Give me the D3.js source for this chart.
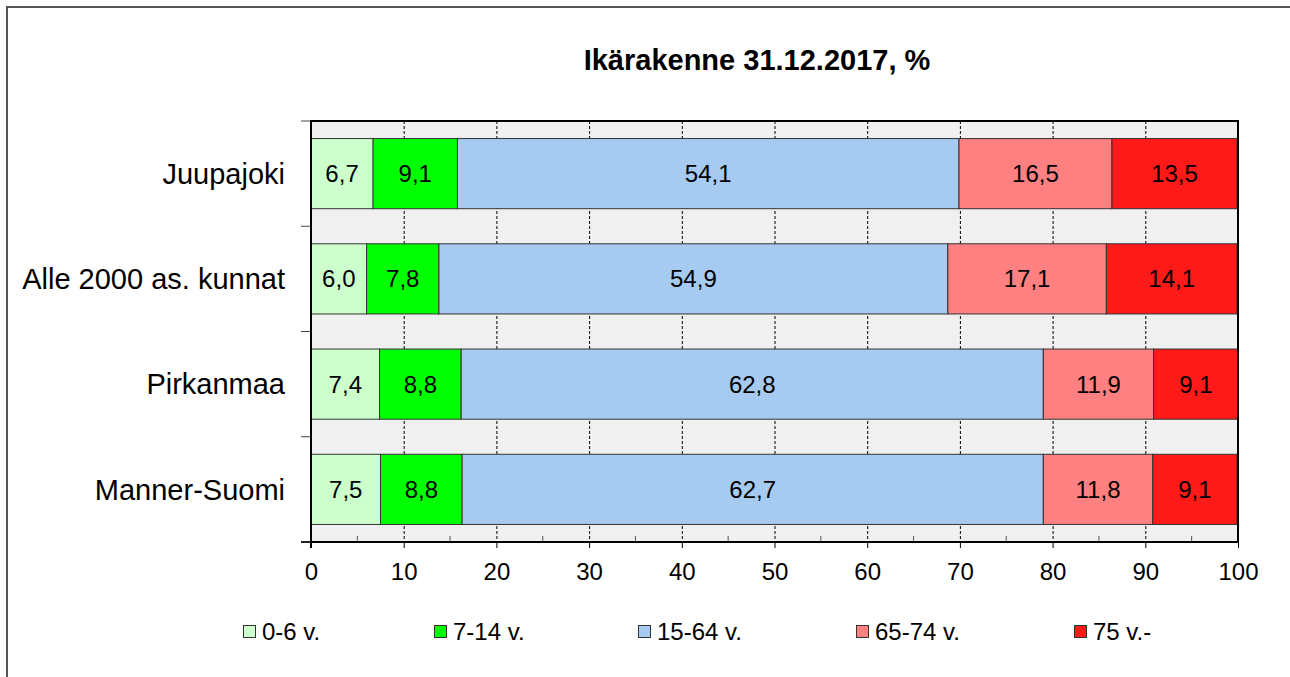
<!DOCTYPE html>
<html>
<head>
<meta charset="utf-8">
<script src="https://cdn.jsdelivr.net/npm/d3@7"></script>
<style>
  html, body { margin: 0; padding: 0; background: #fff; overflow: hidden; }
  svg { display: block; font-family: "Liberation Sans", Arial, sans-serif; }
</style>
</head>
<body>
<svg id="chart" width="1290" height="677"></svg>
<script>
// data
const categories = ["Juupajoki", "Alle 2000 as. kunnat", "Pirkanmaa", "Manner-Suomi"];
const series = ["0-6 v.", "7-14 v.", "15-64 v.", "65-74 v.", "75 v.-"];
const age0_6 = [6.7, 6.0, 7.4, 7.5];
const age7_14 = [9.1, 7.8, 8.8, 8.8];
const age15_64 = [54.1, 54.9, 62.8, 62.7];
const age65_74 = [16.5, 17.1, 11.9, 11.8];
const age75 = [13.5, 14.1, 9.1, 9.1];
const xTicks = [0, 10, 20, 30, 40, 50, 60, 70, 80, 90, 100];
const colors = ["#ccffcc", "#00ff00", "#a6caf0", "#ff8080", "#ff1a1a"];

const values = [age0_6, age7_14, age15_64, age65_74, age75];
const table = categories.map((c, i) => {
    const row = { cat: c };
    series.forEach((s, j) => row[s] = values[j][i]);
    return row;
});

// layout
const pLeft = 311, pRight = 1238, pTop = 121, pBottom = 542;
const legendX = [243, 434, 638, 856, 1074];

const svg = d3.select("#chart");

// outer frame (only top and left edges are in view)
svg.append("line")
    .attr("x1", 6).attr("x2", 1300).attr("y1", 7).attr("y2", 7)
    .attr("stroke", "#555").attr("stroke-width", 2);
svg.append("line")
    .attr("x1", 7).attr("x2", 7).attr("y1", 6).attr("y2", 700)
    .attr("stroke", "#555").attr("stroke-width", 2);

svg.append("text")
    .attr("x", 757)
    .attr("y", 70)
    .attr("text-anchor", "middle")
    .style("font-size", "29px")
    .style("font-weight", "bold")
    .text("Ikärakenne 31.12.2017, %");

const x = d3.scaleLinear().domain([0, 100]).range([pLeft, pRight]);
const y = d3.scaleBand().domain(categories).range([pTop, pBottom])
    .paddingInner(1 / 3).paddingOuter(1 / 6);

// plot background
svg.append("rect")
    .attr("x", pLeft).attr("y", pTop)
    .attr("width", pRight - pLeft).attr("height", pBottom - pTop)
    .attr("fill", "#f0f0f0");

// dashed gridlines
svg.append("g").selectAll("line")
    .data(xTicks.slice(1, -1))
    .enter().append("line")
    .attr("x1", d => x(d) + 0.5).attr("x2", d => x(d) + 0.5)
    .attr("y1", pTop).attr("y2", pBottom)
    .attr("stroke", "#000")
    .attr("stroke-width", 1)
    .attr("stroke-dasharray", "3,2");

// stacked bars
const stacked = d3.stack().keys(series)(table);

const layers = svg.append("g").selectAll("g")
    .data(stacked)
    .enter().append("g")
    .attr("fill", (d, i) => colors[i]);

layers.selectAll("rect")
    .data(d => d)
    .enter().append("rect")
    .attr("x", d => x(d[0]))
    .attr("y", d => y(d.data.cat))
    .attr("width", d => x(d[1]) - x(d[0]))
    .attr("height", y.bandwidth())
    .attr("stroke", "#333")
    .attr("stroke-width", 1);

layers.selectAll("text")
    .data(d => d.map(v => ({ v: v, key: d.key })))
    .enter().append("text")
    .attr("x", d => (x(d.v[0]) + x(d.v[1])) / 2)
    .attr("y", d => y(d.v.data.cat) + y.bandwidth() / 2)
    .attr("dy", "0.35em")
    .attr("text-anchor", "middle")
    .attr("fill", "#000")
    .style("font-size", "24px")
    .text(d => d3.format(".1f")(d.v.data[d.key]).replace(".", ","));

// minor ticks
svg.append("g").selectAll("line")
    .data(d3.range(5, 100, 10))
    .enter().append("line")
    .attr("x1", d => x(d)).attr("x2", d => x(d))
    .attr("y1", pBottom - 6).attr("y2", pBottom)
    .attr("stroke", "#555");

// plot frame top / right
svg.append("path")
    .attr("d", `M${pLeft},${pTop} H${pRight} V${pBottom}`)
    .attr("fill", "none")
    .attr("stroke", "#000")
    .attr("stroke-width", 2);

// x axis
const xAxis = svg.append("g")
    .attr("transform", `translate(0,${pBottom})`)
    .call(d3.axisBottom(x).tickValues(xTicks).tickSize(6).tickPadding(15).tickFormat(d3.format("d")));
xAxis.select(".domain").attr("stroke", "#000").attr("stroke-width", 2)
    .attr("d", `M${pLeft - 10},0H${pRight}`);
xAxis.selectAll(".tick line").attr("stroke", "#000");
xAxis.selectAll("text").style("font-size", "24px").attr("fill", "#000");

// y axis
const bounds = d3.range(categories.length + 1).map(i => pTop + i * y.step());
svg.append("g").selectAll("line")
    .data(bounds)
    .enter().append("line")
    .attr("x1", pLeft - 10).attr("x2", pLeft)
    .attr("y1", d => d).attr("y2", d => d)
    .attr("stroke", "#444");
svg.append("line")
    .attr("x1", pLeft).attr("x2", pLeft)
    .attr("y1", pTop - 1).attr("y2", pBottom + 6)
    .attr("stroke", "#000")
    .attr("stroke-width", 2);

svg.append("g").selectAll("text")
    .data(categories)
    .enter().append("text")
    .attr("x", 285)
    .attr("y", d => y(d) + y.bandwidth() / 2)
    .attr("dy", "0.35em")
    .attr("text-anchor", "end")
    .style("font-size", "29px")
    .text(d => d);

// legend
const legend = svg.append("g").selectAll("g")
    .data(series)
    .enter().append("g")
    .attr("transform", (d, i) => `translate(${legendX[i]},632)`);
legend.append("rect")
    .attr("x", 0.5).attr("y", -6.5)
    .attr("width", 12).attr("height", 12)
    .attr("fill", (d, i) => colors[i])
    .attr("stroke", "#333");
legend.append("text")
    .attr("x", 19)
    .attr("dy", "0.35em")
    .style("font-size", "24px")
    .text(d => d);
</script>
</body>
</html>
